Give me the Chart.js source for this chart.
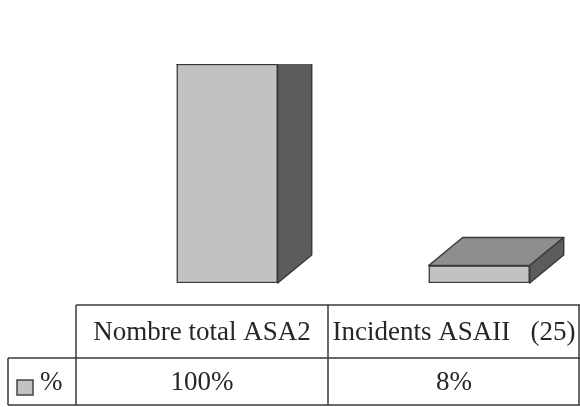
<!DOCTYPE html>
<html>
<head>
<meta charset="utf-8">
<script src="https://cdn.jsdelivr.net/npm/chart.js@4.4.1/dist/chart.umd.min.js"></script>
<style>
  html, body { margin: 0; padding: 0; background: #fff; }
  #wrap { width: 580px; height: 407px; }
</style>
</head>
<body>
<div id="wrap"><canvas id="graphique"></canvas></div>
<script>
// données
const categories = ['Nombre total ASA2', 'Incidents ASAII   (25)'];
const positions = [1, 2];
const pourcentages = [100, 8];
const etiquettesValeurs = ['100%', '8%'];
const nomSerie = '%';

const couleurFace = '#c2c2c2';
const couleurCote = '#5c5c5c';
const couleurDessus = '#8e8e8e';
const couleurTrait = '#3a3a3a';

// faces 3D (côté + dessus) de chaque barre
const barres3D = {
    id: 'barres3D',
    afterDatasetsDraw(chart) {
        const ctx = chart.ctx;
        const zone = chart.chartArea;
        const dx = 34, dy = -28;
        ctx.save();
        ctx.beginPath();
        ctx.rect(0, zone.top, chart.width, chart.height - zone.top);
        ctx.clip();
        ctx.lineWidth = 1.5;
        ctx.strokeStyle = couleurTrait;
        ctx.lineJoin = 'round';
        chart.getDatasetMeta(0).data.forEach(barre => {
            const { x, y, base, width } = barre.getProps(['x', 'y', 'base', 'width'], true);
            const g = x - width / 2, d = x + width / 2;
            // dessus
            ctx.beginPath();
            ctx.moveTo(g, y);
            ctx.lineTo(g + dx, y + dy);
            ctx.lineTo(d + dx, y + dy);
            ctx.lineTo(d, y);
            ctx.closePath();
            ctx.fillStyle = couleurDessus;
            ctx.fill();
            ctx.stroke();
            // côté
            ctx.beginPath();
            ctx.moveTo(d, y);
            ctx.lineTo(d + dx, y + dy);
            ctx.lineTo(d + dx, base + dy);
            ctx.lineTo(d, base);
            ctx.closePath();
            ctx.fillStyle = couleurCote;
            ctx.fill();
            ctx.stroke();
        });
        ctx.restore();
    }
};

// table de données sous le graphique
const tableDonnees = {
    id: 'tableDonnees',
    afterDraw(chart) {
        const ctx = chart.ctx;
        const zone = chart.chartArea;
        const largeurCol = (zone.right - zone.left) / categories.length;
        const haut = zone.bottom + 22;
        const milieu = haut + 53;
        const bas = chart.height - 2;
        const gaucheLegende = 8;

        ctx.save();
        ctx.strokeStyle = couleurTrait;
        ctx.lineWidth = 1.5;
        ctx.beginPath();
        // ligne du haut (en-têtes)
        ctx.moveTo(zone.left, haut);
        ctx.lineTo(zone.right, haut);
        // ligne du milieu
        ctx.moveTo(gaucheLegende, milieu);
        ctx.lineTo(zone.right, milieu);
        // ligne du bas
        ctx.moveTo(gaucheLegende, bas);
        ctx.lineTo(zone.right, bas);
        // verticales
        ctx.moveTo(gaucheLegende, milieu);
        ctx.lineTo(gaucheLegende, bas);
        for (let i = 0; i <= categories.length; i++) {
            const xc = Math.min(zone.left + i * largeurCol, zone.right - 1);
            ctx.moveTo(xc, haut);
            ctx.lineTo(xc, bas);
        }
        ctx.stroke();

        ctx.fillStyle = '#262626';
        ctx.font = '27px "Liberation Serif", "DejaVu Serif", serif';
        ctx.textAlign = 'center';
        ctx.textBaseline = 'middle';
        categories.forEach((cat, i) => {
            const cx = zone.left + (i + 0.5) * largeurCol;
            ctx.fillText(cat, cx, (haut + milieu) / 2 + 1);
            ctx.fillText(etiquettesValeurs[i], cx, (milieu + bas) / 2 + 1);
        });

        // légende
        ctx.fillStyle = couleurFace;
        ctx.fillRect(17, 380, 16, 15);
        ctx.strokeStyle = '#444';
        ctx.lineWidth = 1.5;
        ctx.strokeRect(17, 380, 16, 15);
        ctx.fillStyle = '#262626';
        ctx.textAlign = 'left';
        ctx.font = '27px "Liberation Serif", "DejaVu Serif", serif';
        ctx.fillText(nomSerie, 40, (milieu + bas) / 2 + 1);
        ctx.restore();
    }
};

const contexte = document.getElementById('graphique').getContext('2d');

new Chart(contexte, {
    type: 'bar',
    data: {
        datasets: [
            {
                label: nomSerie,
                data: positions.map((p, i) => ({ x: p, y: pourcentages[i] })),
                backgroundColor: couleurFace,
                borderColor: couleurTrait,
                borderWidth: 1.5,
                borderSkipped: false,
                barThickness: 101,
            },
        ],
    },
    options: {
        responsive: true,
        maintainAspectRatio: false,
        animation: false,
        layout: {
            padding: { top: 64, bottom: 124, left: 76, right: 0 },
        },
        plugins: {
            legend: { display: false },
            tooltip: { enabled: false },
        },
        scales: {
            x: {
                type: 'linear',
                min: 0.4,
                max: 2.4,
                offset: false,
                display: false,
            },
            y: {
                min: 0,
                max: 100,
                display: false,
            },
        },
    },
    plugins: [barres3D, tableDonnees],
});
</script>
</body>
</html>
